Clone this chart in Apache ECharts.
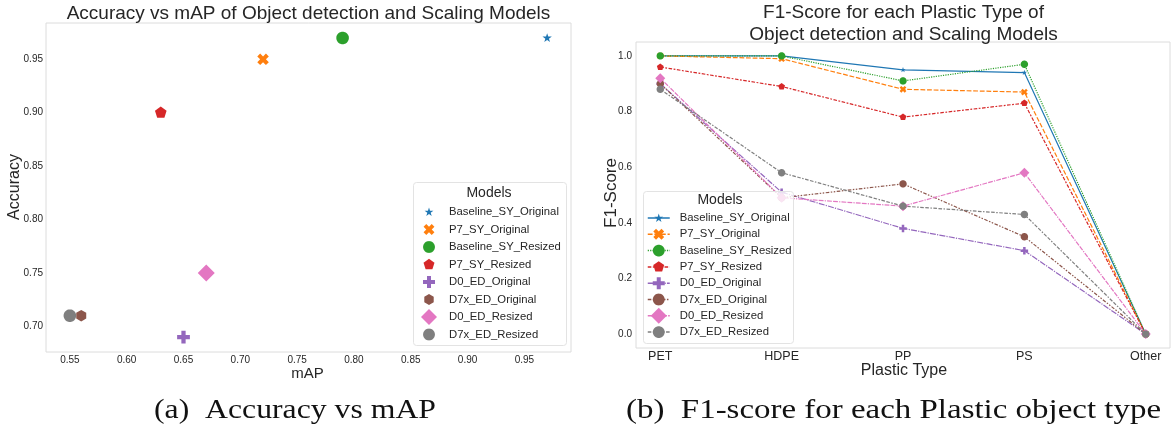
<!DOCTYPE html>
<html>
<head>
<meta charset="utf-8">
<script src="https://cdn.jsdelivr.net/npm/echarts@6/dist/echarts.min.js"></script>
<style>
html,body{margin:0;padding:0;background:#fff;}
#chart{width:1171px;height:432px;}
</style>
</head>
<body>
<div id="chart"></div>
<script>
// ---------------- DATA ----------------
const models = ['Baseline_SY_Original','P7_SY_Original','Baseline_SY_Resized','P7_SY_Resized','D0_ED_Original','D7x_ED_Original','D0_ED_Resized','D7x_ED_Resized'];
const mAP      = [0.97, 0.72, 0.79, 0.63, 0.65, 0.56, 0.67, 0.55];
const accuracy = [0.97, 0.95, 0.97, 0.90, 0.69, 0.71, 0.75, 0.71];

const plasticTypes = ['PET','HDPE','PP','PS','Other'];
const f1_Baseline_SY_Original = [1.00, 1.00, 0.95, 0.94, 0.00];
const f1_P7_SY_Original       = [1.00, 0.99, 0.88, 0.87, 0.00];
const f1_Baseline_SY_Resized  = [1.00, 1.00, 0.91, 0.97, 0.00];
const f1_P7_SY_Resized        = [0.96, 0.89, 0.78, 0.83, 0.00];
const f1_D0_ED_Original       = [0.90, 0.51, 0.38, 0.30, 0.00];
const f1_D7x_ED_Original      = [0.90, 0.49, 0.54, 0.35, 0.00];
const f1_D0_ED_Resized        = [0.92, 0.49, 0.46, 0.58, 0.00];
const f1_D7x_ED_Resized       = [0.88, 0.58, 0.46, 0.43, 0.00];
const f1Scores = [f1_Baseline_SY_Original, f1_P7_SY_Original, f1_Baseline_SY_Resized, f1_P7_SY_Resized,
                  f1_D0_ED_Original, f1_D7x_ED_Original, f1_D0_ED_Resized, f1_D7x_ED_Resized];

// ---------------- STYLE ----------------
const colors = ['#1f77b4','#ff7f0e','#2ca02c','#d62728','#9467bd','#8c564b','#e377c2','#7f7f7f'];
const FONT = '"Liberation Sans", Arial, sans-serif';
const SERIF = '"Liberation Serif", "Times New Roman", serif';
const TXT = '#262626';

// symbol paths in a padded 0..100 box (padding keeps relative sizes)
function pathOf(pts){
  return 'path://M0,0M100,100M' + pts.map(p => p[0].toFixed(2) + ',' + p[1].toFixed(2)).join('L') + 'Z';
}
function regular(n, R, startDeg){
  const pts = [];
  for (let i = 0; i < n; i++) {
    const a = (startDeg + i * 360 / n) * Math.PI / 180;
    pts.push([50 + R * Math.cos(a), 50 + R * Math.sin(a)]);
  }
  return pts;
}
function starPts(R, r){
  const pts = [];
  for (let i = 0; i < 10; i++) {
    const a = (-90 + i * 36) * Math.PI / 180;
    const rr = i % 2 === 0 ? R : r;
    pts.push([50 + rr * Math.cos(a), 51 + rr * Math.sin(a)]);
  }
  return pts;
}
const plusBase = [[-1,-3],[1,-3],[1,-1],[3,-1],[3,1],[1,1],[1,3],[-1,3],[-1,1],[-3,1],[-3,-1],[-1,-1]];
const SYM = {
  star:    pathOf(starPts(29, 29 * 0.382)),
  x:       pathOf(plusBase.map(p => [50 + 12 * (p[0] - p[1]) / Math.SQRT2, 50 + 12 * (p[0] + p[1]) / Math.SQRT2])),
  circle:  pathOf(regular(48, 37, 0)),
  pentagon:pathOf(regular(5, 36, -90)),
  plus:    pathOf(plusBase.map(p => [50 + 12.5 * p[0], 50 + 12.5 * p[1]])),
  hexagon: pathOf(regular(6, 34, -90)),
  diamond: pathOf([[50,0],[100,50],[50,100],[0,50]])
};
const scatterSymbols = [SYM.star, SYM.x, SYM.circle, SYM.pentagon, SYM.plus, SYM.hexagon, SYM.diamond, SYM.circle];
const lineSymbols    = [SYM.star, SYM.x, SYM.circle, SYM.pentagon, SYM.plus, SYM.circle, SYM.diamond, SYM.circle];
const LW = 1.2;
const dashes = [
  'solid',
  [4, 1.5],
  [1, 1],
  [3, 1.25, 1.5, 1.25],
  [5, 1, 1, 1],
  [3, 1.25, 1.25, 1.25, 1.25, 1.25],
  [4, 1, 4, 1, 1, 1],
  [3, 1.25, 3, 1.25, 1.25, 1.25]
].map(d => Array.isArray(d) ? d.map(v => v * LW) : d);

const PREFIX = 'f1:';

// ---------------- SERIES ----------------
const series = [];
models.forEach((m, i) => {
  series.push({
    type: 'scatter', name: m, xAxisIndex: 0, yAxisIndex: 0,
    data: [[mAP[i], accuracy[i]]],
    symbol: scatterSymbols[i], symbolSize: 17,
    itemStyle: { color: colors[i], opacity: 1 },
    z: 2
  });
});
models.forEach((m, i) => {
  series.push({
    type: 'line', name: PREFIX + m, xAxisIndex: 1, yAxisIndex: 1,
    data: plasticTypes.map((c, k) => [k, f1Scores[i][k]]),
    symbol: lineSymbols[i], symbolSize: 10, showSymbol: true, showAllSymbol: true,
    lineStyle: { color: colors[i], width: LW, type: dashes[i] },
    itemStyle: { color: colors[i] },
    z: 2
  });
});

const axisLabelBase = { color: TXT, fontFamily: FONT, fontSize: 10 };
function txt(x, y, text, size, extra){
  return Object.assign({ type: 'text', x: x, y: y,
    style: { text: text, fill: TXT, fontFamily: FONT, fontSize: size,
             align: 'center', verticalAlign: 'middle', textAlign: 'center', textVerticalAlign: 'middle' } }, extra || {});
}

const option = {
  animation: false,
  backgroundColor: '#ffffff',
  grid: [
    { left: 46, top: 23, width: 525, height: 329, show: true, borderColor: '#dcdcdc', borderWidth: 1, containLabel: false },
    { left: 636, top: 42, width: 534, height: 306, show: true, borderColor: '#dcdcdc', borderWidth: 1, containLabel: false }
  ],
  xAxis: [
    { type: 'value', gridIndex: 0, min: 0.529, max: 0.991, splitNumber: 8,
      axisLine: { show: false }, axisTick: { show: false }, splitLine: { show: false },
      axisLabel: Object.assign({}, axisLabelBase, { margin: 3, showMinLabel: false, showMaxLabel: false,
        formatter: v => v.toFixed(2) }) },
    { type: 'value', gridIndex: 1, min: -0.2, max: 4.2, splitNumber: 4,
      axisLine: { show: false }, axisTick: { show: false }, splitLine: { show: false },
      axisLabel: Object.assign({}, axisLabelBase, { fontSize: 12.5, margin: 2, showMinLabel: false, showMaxLabel: false,
        formatter: v => (Math.abs(v - Math.round(v)) < 1e-6 && plasticTypes[Math.round(v)] !== undefined) ? plasticTypes[Math.round(v)] : '' }) }
  ],
  yAxis: [
    { type: 'value', gridIndex: 0, min: 0.676, max: 0.984, splitNumber: 6,
      axisLine: { show: false }, axisTick: { show: false }, splitLine: { show: false },
      axisLabel: Object.assign({}, axisLabelBase, { margin: 3, showMinLabel: false, showMaxLabel: false,
        formatter: v => v.toFixed(2) }) },
    { type: 'value', gridIndex: 1, min: -0.05, max: 1.05, splitNumber: 5,
      axisLine: { show: false }, axisTick: { show: false }, splitLine: { show: false },
      axisLabel: Object.assign({}, axisLabelBase, { margin: 4, showMinLabel: false, showMaxLabel: false,
        formatter: v => v.toFixed(1) }) }
  ],
  legend: [
    { data: models, orient: 'vertical', left: 421, top: 204, padding: 0,
      itemWidth: 16, itemHeight: 16, itemGap: 1.5, selectedMode: false,
      textStyle: { color: TXT, fontFamily: FONT, fontSize: 11.3, padding: [0, 0, 0, 7] } },
    { data: models.map(m => PREFIX + m), orient: 'vertical', left: 647, top: 210, padding: 0,
      itemWidth: 22, itemHeight: 20, itemGap: 0.3, selectedMode: false,
      formatter: n => n.slice(PREFIX.length),
      lineStyle: { width: 1.5 },
      textStyle: { color: TXT, fontFamily: FONT, fontSize: 11.3, padding: [0, 0, 0, 5] } }
  ],
  graphic: [
    // legend frames
    { type: 'rect', z: 3, shape: { x: 413.5, y: 182.5, width: 153, height: 163, r: 3 },
      style: { fill: 'rgba(255,255,255,0.8)', stroke: '#e3e3e3', lineWidth: 1 } },
    { type: 'rect', z: 3, shape: { x: 643.5, y: 191.5, width: 150, height: 152, r: 3 },
      style: { fill: 'rgba(255,255,255,0.8)', stroke: '#e3e3e3', lineWidth: 1 } },
    // legend titles
    txt(489, 193, 'Models', 14, { z: 5 }),
    txt(720, 200, 'Models', 14, { z: 5 }),
    // titles
    txt(308.5, 14, 'Accuracy vs mAP of Object detection and Scaling Models', 19),
    txt(903.5, 13, 'F1-Score for each Plastic Type of', 19),
    txt(903.5, 35, 'Object detection and Scaling Models', 19),
    // axis names
    txt(15, 187, 'Accuracy', 16, { rotation: Math.PI / 2 }),
    txt(307.5, 374, 'mAP', 15),
    txt(611, 193, 'F1-Score', 17, { rotation: Math.PI / 2 }),
    txt(904, 371, 'Plastic Type', 16),
    // captions
    { type: 'text', x: 295, y: 411, scaleX: 1.175,
      style: { text: '(a)  Accuracy vs mAP', fill: '#111', fontFamily: SERIF, fontSize: 27, align: 'center', verticalAlign: 'middle', textAlign: 'center', textVerticalAlign: 'middle' } },
    { type: 'text', x: 893.5, y: 411, scaleX: 1.22,
      style: { text: '(b)  F1-score for each Plastic object type', fill: '#111', fontFamily: SERIF, fontSize: 27, align: 'center', verticalAlign: 'middle', textAlign: 'center', textVerticalAlign: 'middle' } }
  ],
  series: series
};

const chart = echarts.init(document.getElementById('chart'), null, { renderer: 'canvas' });
chart.setOption(option);
</script>
</body>
</html>
